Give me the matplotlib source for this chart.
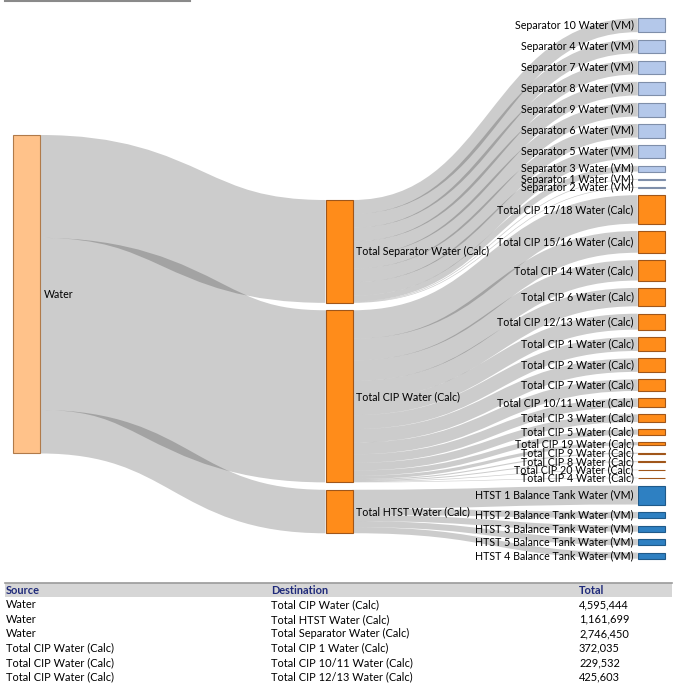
import matplotlib.pyplot as plt
from matplotlib.path import Path
from matplotlib.patches import PathPatch, Rectangle

plt.rcParams['font.family'] = ['Lato', 'DejaVu Sans']

# data
source_name = 'Water'
mid_names = ['Total Separator Water (Calc)', 'Total CIP Water (Calc)', 'Total HTST Water (Calc)']
mid_values = [2746450, 4595444, 1161699]

sep_names = ['Separator 10 Water (VM)', 'Separator 4 Water (VM)', 'Separator 7 Water (VM)',
             'Separator 8 Water (VM)', 'Separator 9 Water (VM)', 'Separator 6 Water (VM)',
             'Separator 5 Water (VM)', 'Separator 3 Water (VM)', 'Separator 1 Water (VM)',
             'Separator 2 Water (VM)']
sep_values = [370000, 367000, 366000, 365000, 364000, 363000, 361000, 152000, 20000, 18000]

cip_names = ['Total CIP 17/18 Water (Calc)', 'Total CIP 15/16 Water (Calc)', 'Total CIP 14 Water (Calc)',
             'Total CIP 6 Water (Calc)', 'Total CIP 12/13 Water (Calc)', 'Total CIP 1 Water (Calc)',
             'Total CIP 2 Water (Calc)', 'Total CIP 7 Water (Calc)', 'Total CIP 10/11 Water (Calc)',
             'Total CIP 3 Water (Calc)', 'Total CIP 5 Water (Calc)', 'Total CIP 19 Water (Calc)',
             'Total CIP 9 Water (Calc)', 'Total CIP 8 Water (Calc)', 'Total CIP 20 Water (Calc)',
             'Total CIP 4 Water (Calc)']
cip_values = [760000, 580000, 545000, 490000, 425603, 372035, 360000, 313000, 229532,
              205000, 140000, 85000, 30000, 26000, 18000, 15000]

htst_names = ['HTST 1 Balance Tank Water (VM)', 'HTST 2 Balance Tank Water (VM)',
              'HTST 3 Balance Tank Water (VM)', 'HTST 5 Balance Tank Water (VM)',
              'HTST 4 Balance Tank Water (VM)']
htst_values = [505000, 166000, 164000, 163000, 162000]

table_source = ['Water', 'Water', 'Water', 'Total CIP Water (Calc)', 'Total CIP Water (Calc)',
                'Total CIP Water (Calc)']
table_dest = ['Total CIP Water (Calc)', 'Total HTST Water (Calc)', 'Total Separator Water (Calc)',
              'Total CIP 1 Water (Calc)', 'Total CIP 10/11 Water (Calc)', 'Total CIP 12/13 Water (Calc)']
table_total = [4595444, 1161699, 2746450, 372035, 229532, 425603]

# layout settings
scale = 1 / 26700.0
gap = 7.4
node_w = 27
col_x = [13, 325.5, 637.7]
col_top = [135, 200, 18.3]
flow_color = (0, 0, 0, 0.2)
label_size = 7.7
table_size = 7.9

water_face, water_edge = '#FFC28A', '#B07A4A'
orange_face, orange_edge = '#FF8C1A', '#A0561A'
lblue_face, lblue_edge = '#B4C8EA', '#7F8FAA'
blue_face, blue_edge = '#2E80C2', '#1F5A8A'

fig = plt.figure(figsize=(6.79, 6.87), dpi=100)
ax = fig.add_axes([0, 0, 1, 1])
ax.set_xlim(0, 679)
ax.set_ylim(687, 0)
ax.axis('off')

px_to_pt = 72.0 / fig.dpi


def stack(values, top):
    out = []
    y = top
    for v in values:
        h = v * scale
        out.append((y, y + h))
        y += h + gap
    return out


def link(x0, y0, x1, y1, h):
    # stroked bezier centre line, width = flow thickness (d3-sankey style)
    xm = (x0 + x1) / 2
    p = Path([(x0, y0), (xm, y0), (xm, y1), (x1, y1)],
             [Path.MOVETO, Path.CURVE4, Path.CURVE4, Path.CURVE4])
    ax.add_patch(PathPatch(p, facecolor='none', edgecolor=flow_color,
                           linewidth=h * px_to_pt, capstyle='butt', zorder=1))


def node(x, y0, y1, face, edge):
    ax.add_patch(Rectangle((x, y0), node_w, y1 - y0, facecolor=face, edgecolor=edge,
                           linewidth=0.8, zorder=3))


# positions
water_pos = (col_top[0], col_top[0] + sum(mid_values) * scale)
mid_pos = stack(mid_values, col_top[1])
children = [sep_values, cip_values, htst_values]
right_values = sep_values + cip_values + htst_values
right_names = sep_names + cip_names + htst_names
right_pos = stack(right_values, col_top[2])

# water -> middle links
y = water_pos[0]
for v, (t0, t1) in zip(mid_values, mid_pos):
    h = v * scale
    link(col_x[0] + node_w, y + h / 2, col_x[1], t0 + h / 2, h)
    y += h

# middle -> right links
k = 0
for (m0, m1), vals in zip(mid_pos, children):
    y = m0
    for v in vals:
        h = v * scale
        t0 = right_pos[k][0]
        link(col_x[1] + node_w, y + h / 2, col_x[2], t0 + h / 2, h)
        y += h
        k += 1

# nodes
node(col_x[0], water_pos[0], water_pos[1], water_face, water_edge)
ax.text(col_x[0] + node_w + 4, sum(water_pos) / 2, source_name, fontsize=label_size,
        va='center', ha='left', zorder=4)
for name, (m0, m1) in zip(mid_names, mid_pos):
    node(col_x[1], m0, m1, orange_face, orange_edge)
    ax.text(col_x[1] + node_w + 4, (m0 + m1) / 2, name, fontsize=label_size,
            va='center', ha='left', zorder=4)

styles = ([(lblue_face, lblue_edge)] * len(sep_values) + [(orange_face, orange_edge)] * len(cip_values)
          + [(blue_face, blue_edge)] * len(htst_values))
for name, (r0, r1), (fc, ec) in zip(right_names, right_pos, styles):
    node(col_x[2], r0, r1, fc, ec)
    ax.text(col_x[2] - 4, (r0 + r1) / 2, name, fontsize=label_size, va='center', ha='right', zorder=4)

# small line at top
ax.plot([5, 190], [0.8, 0.8], color='#8a8a8a', linewidth=1.5)

# table
ax.add_patch(Rectangle((5, 583), 667, 14, facecolor='#d6d6d6', edgecolor='none'))
ax.plot([5, 672], [583, 583], color='#9a9a9a', linewidth=1.2)
col_tx = [6, 271, 579]
for x, h in zip(col_tx, ['Source', 'Destination', 'Total']):
    ax.text(x, 590.5, h, fontsize=table_size, fontweight='bold', color='#1F2A7A', va='center', ha='left')
for i, (s, d, t) in enumerate(zip(table_source, table_dest, table_total)):
    yy = 605 + i * 14.4
    ax.text(col_tx[0], yy, s, fontsize=table_size, va='center', ha='left')
    ax.text(col_tx[1], yy, d, fontsize=table_size, va='center', ha='left')
    ax.text(col_tx[2], yy, f'{t:,}', fontsize=table_size, va='center', ha='left')

fig.savefig('out.png', dpi=100)
